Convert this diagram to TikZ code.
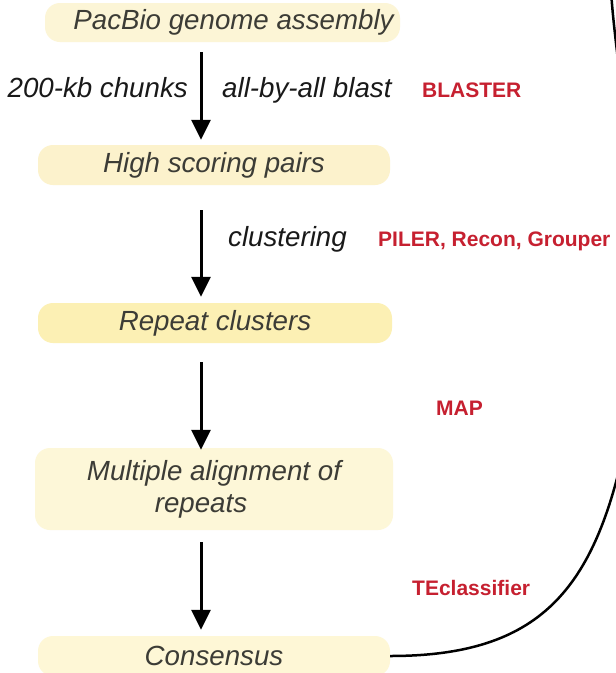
\documentclass[tikz,border=0pt]{standalone}
\usepackage{fontspec}
\setmainfont{Liberation Sans}
\usetikzlibrary{arrows.meta}

\definecolor{boxA}{HTML}{FCF5D6}
\definecolor{boxB}{HTML}{FCF2CC}
\definecolor{boxC}{HTML}{FCF0B4}
\definecolor{boxD}{HTML}{FDF7D8}
\definecolor{boxE}{HTML}{FEF7D6}
\definecolor{boxtxt}{HTML}{3C3C36}
\definecolor{tool}{HTML}{C62030}

\tikzset{
  stage/.style={rounded corners=15pt, inner sep=0pt, minimum height=40pt,
    text=boxtxt, align=center,
    font=\fontsize{27.7}{32}\selectfont\itshape},
  flow/.style={line width=3pt, -{Triangle[width=19pt,length=20pt]}},
  steplabel/.style={inner sep=0pt, text=black!90,
    font=\fontsize{27.7}{32}\selectfont\itshape},
  toollabel/.style={inner sep=0pt, text=tool,
    font=\fontsize{21}{25}\selectfont\bfseries},
  loopline/.style={line width=2.5pt, black}
}

\begin{document}
\begin{tikzpicture}[x=1pt, y=-1pt]
  \useasboundingbox (0,0) rectangle (616,673);
  \fill[white] (0,0) rectangle (616,673);

  % pipeline stages
  \node[stage, fill=boxA, minimum width=355pt, minimum height=39pt] (b1) at (222.5,22.5)
    {\hspace*{22pt}PacBio genome assembly};
  \node[stage, fill=boxB, minimum width=352pt] (b2) at (214,165) {High scoring pairs};
  \node[stage, fill=boxC, minimum width=354pt] (b3) at (215,323) {Repeat clusters};
  \node[stage, fill=boxD, minimum width=358pt, minimum height=82pt] (b4) at (214,489)
    {Multiple alignment of\\repeats\hspace*{26pt}};
  \node[stage, fill=boxE, minimum width=352pt] (b5) at (214,656) {Consensus};

  % common axis of the arrows
  \coordinate (ax) at (201,0);

  \draw[flow, shorten <=10pt, shorten >=5pt] (b1.south -| ax) -- (b2.north -| ax);
  \draw[flow, shorten <=25pt, shorten >=6pt] (b2.south -| ax) -- (b3.north -| ax);
  \draw[flow, shorten <=19pt, shorten >=-2pt] (b3.south -| ax) -- (b4.north -| ax);
  \draw[flow, shorten <=12pt, shorten >=6pt] (b4.south -| ax) -- (b5.north -| ax);

  % step descriptions
  \node[steplabel, anchor=base east] (l1) at (188,97) {200-kb chunks};
  \node[steplabel, anchor=base west] (l2) at (222,97) {all-by-all blast};
  \node[steplabel, anchor=base west] (l3) at (228,246) {clustering};

  % tools
  \node[toollabel, anchor=base west] (t1) at (422,97) {BLASTER};
  \node[toollabel, anchor=base west] (t2) at (378,246) {PILER, Recon, Grouper};
  \node[toollabel, anchor=base west] (t3) at (436,415.5) {MAP};
  \node[toollabel, anchor=base west] (t4) at (412,595.5) {TEclassifier};

  % feedback loop from the consensus back up the right side (partly beyond the edge)
  \coordinate (loopend) at (611,-10);
  \draw[loopline] (b5.east) .. controls (540,656) and (595,590) .. (626,440)
    .. controls (660,300) and (616,80) .. (loopend);
\end{tikzpicture}
\end{document}
